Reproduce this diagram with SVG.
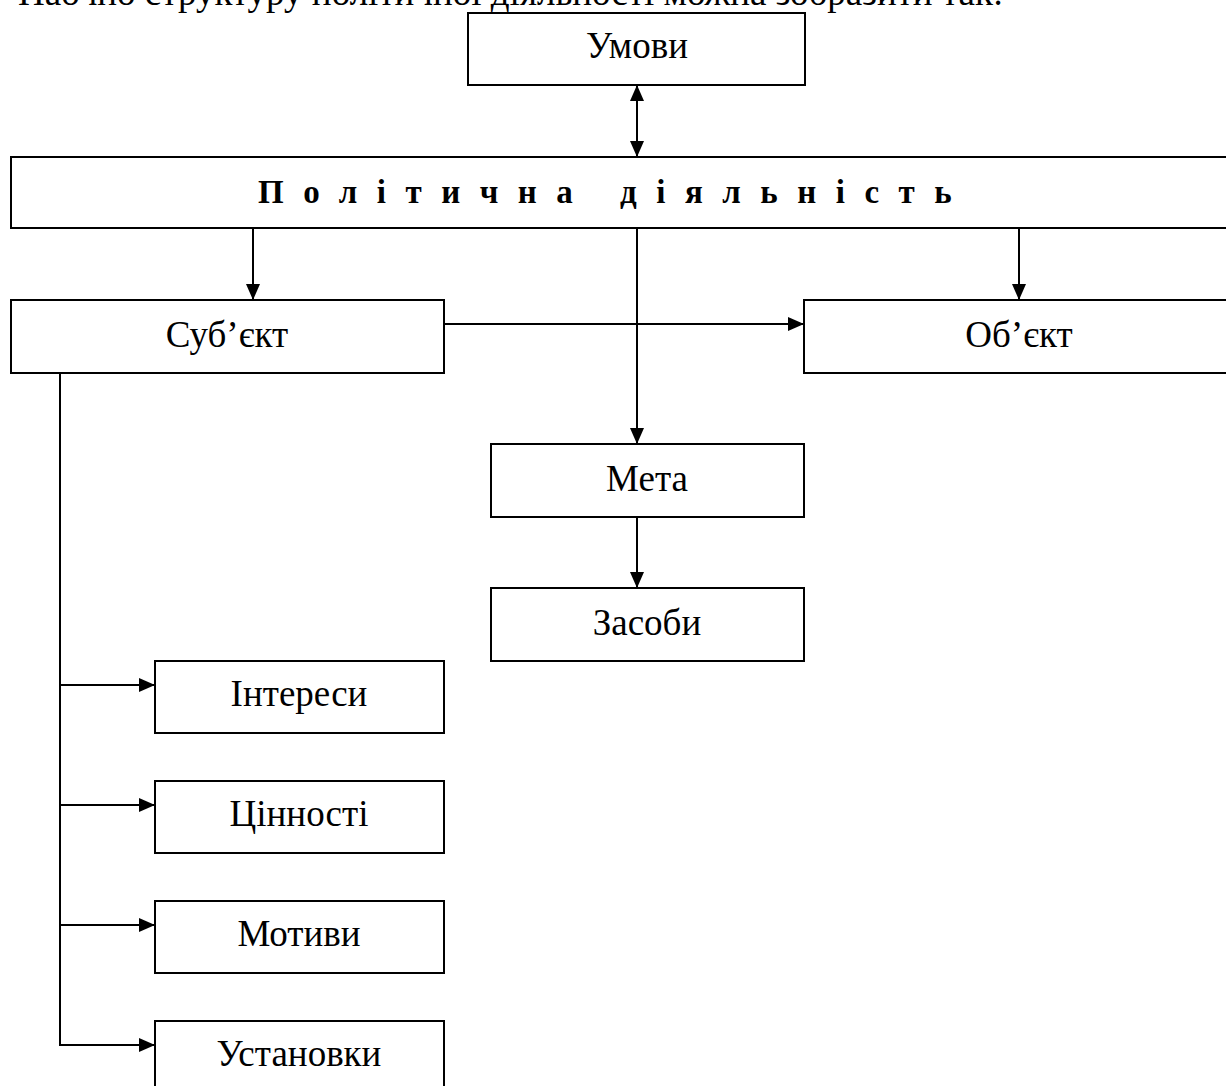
<svg xmlns="http://www.w3.org/2000/svg" width="1226" height="1086" viewBox="0 0 1226 1086">
<style>
.box{fill:#fff;stroke:#000;stroke-width:2}
.lbl{font-family:"Liberation Serif","Times New Roman",serif;font-size:37px;fill:#000;text-anchor:middle}
.head{font-family:"Liberation Serif","Times New Roman",serif;font-size:33px;font-weight:bold;fill:#000;letter-spacing:19.5px}
.cap{font-family:"Liberation Serif","Times New Roman",serif;font-size:37px;fill:#000}
.ln{fill:none;stroke:#000;stroke-width:2}
.ar{fill:none;stroke:#000;stroke-width:2;marker-end:url(#ah)}
.ar2{fill:none;stroke:#000;stroke-width:2;marker-end:url(#ah);marker-start:url(#ah)}
</style>
<defs>
<marker id="ah" viewBox="0 0 16 14" refX="16" refY="7" markerWidth="16" markerHeight="14" markerUnits="userSpaceOnUse" orient="auto-start-reverse">
<path d="M0,0 L16,7 L0,14 z" fill="#000"/>
</marker>
</defs>
<rect width="1226" height="1086" fill="#fff"/>
<text class="cap" x="18" y="5">Наочно структуру політичної діяльності можна зобразити так:</text>
<g id="connectors">
<line class="ar2" x1="637" y1="85" x2="637" y2="157"/>
<line class="ar" x1="253" y1="228" x2="253" y2="300"/>
<line class="ar" x1="1019" y1="228" x2="1019" y2="300"/>
<line class="ar" x1="637" y1="228" x2="637" y2="444"/>
<line class="ar" x1="444" y1="324" x2="804" y2="324"/>
<line class="ar" x1="637" y1="517" x2="637" y2="588"/>
<polyline class="ln" points="60,373 60,1045"/>
<line class="ar" x1="60" y1="685" x2="155" y2="685"/>
<line class="ar" x1="60" y1="805" x2="155" y2="805"/>
<line class="ar" x1="60" y1="925" x2="155" y2="925"/>
<line class="ar" x1="59" y1="1045" x2="155" y2="1045"/>
</g>
<g id="umovy"><rect class="box" x="468" y="13" width="337" height="72"/><text class="lbl" x="637" y="58">Умови</text></g>
<g id="diyalnist"><rect class="box" x="11" y="157" width="1230" height="71"/><text class="head" x="258" y="203">Політична діяльність</text></g>
<g id="subject"><rect class="box" x="11" y="300" width="433" height="73"/><text class="lbl" x="227" y="347">Суб’єкт</text></g>
<g id="object"><rect class="box" x="804" y="300" width="440" height="73"/><text class="lbl" x="1019" y="347">Об’єкт</text></g>
<g id="meta"><rect class="box" x="491" y="444" width="313" height="73"/><text class="lbl" x="647" y="491">Мета</text></g>
<g id="zasoby"><rect class="box" x="491" y="588" width="313" height="73"/><text class="lbl" x="647" y="635">Засоби</text></g>
<g id="interesy"><rect class="box" x="155" y="661" width="289" height="72"/><text class="lbl" x="299" y="706">Інтереси</text></g>
<g id="tsinnosti"><rect class="box" x="155" y="781" width="289" height="72"/><text class="lbl" x="299" y="826">Цінності</text></g>
<g id="motyvy"><rect class="box" x="155" y="901" width="289" height="72"/><text class="lbl" x="299" y="946">Мотиви</text></g>
<g id="ustanovky"><rect class="box" x="155" y="1021" width="289" height="72"/><text class="lbl" x="299" y="1066">Установки</text></g>
</svg>
